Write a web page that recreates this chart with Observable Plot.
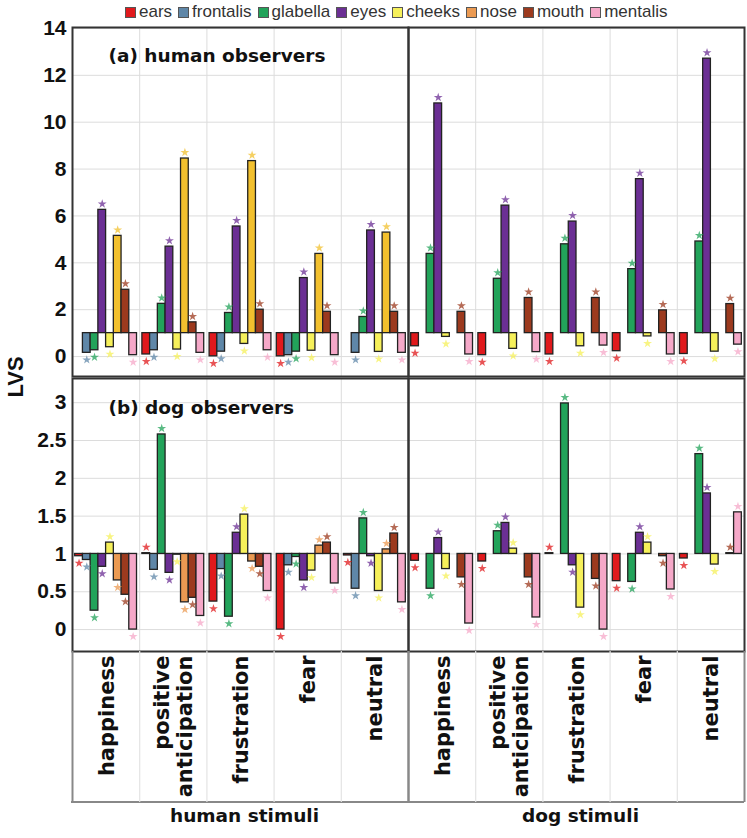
<!DOCTYPE html>
<html><head><meta charset="utf-8">
<script src="https://cdn.jsdelivr.net/npm/d3@7"></script>
<script src="https://cdn.jsdelivr.net/npm/@observablehq/plot@0.6"></script>
<style>
body{margin:0;background:#fff;}
#fig{position:relative;width:747px;height:838px;overflow:hidden;}
#fig svg{display:block;position:absolute;left:0;}
#legend{position:absolute;left:125px;top:0;height:24px;display:flex;align-items:center;font:17px "Liberation Sans",Arial,sans-serif;color:#333;white-space:nowrap;}
#legend .item{display:flex;align-items:center;margin-right:6px;}
#legend .sw{width:9px;height:9px;border:1px solid #555;margin-right:3px;}
#ylab{position:absolute;left:16px;top:377px;transform:translate(-50%,-50%) rotate(-90deg);font:bold 22px "Liberation Sans",Arial,sans-serif;color:#111;}
#boxbottom{position:absolute;left:71px;top:801px;width:673px;height:0;border-top:2px solid #888;}
</style></head><body><div id="fig"><div id="legend"></div><div id="ylab">LVS</div><div id="boxbottom"></div></div>
<script>
// ---- categories ----
const regions = ["ears","frontalis","glabella","eyes","cheeks","nose","mouth","mentalis"];
const emotions = ["happiness","positive anticipation","frustration","fear","neutral"];
const emotionLabels = ["happiness","positive\nanticipation","frustration","fear","neutral"];
const stimuli = ["human stimuli","dog stimuli"];
const legendColors = ["#e0191c","#5f87a8","#22a35a","#6b2f94","#f6f05a","#eb9a52","#9c3a1e","#f5a8c8"];
const colorsA = ["#e0191c","#5f87a8","#22a35a","#6b2f94","#f6f05a","#f2c02e","#9c3a1e","#f5a8c8"];
const colorsB = legendColors;
// ---- values: rows = emotions, columns = regions (null = no bar) ----
// (a) human observers
const humanObsHumanStim = [
  [null,0.16,0.27,6.26,0.40,5.15,2.85,0.06],
  [0.09,0.27,2.25,4.69,0.30,8.45,1.46,0.16],
  [0.01,0.21,1.86,5.55,0.54,8.34,2.00,0.27],
  [0.01,0.06,0.21,3.35,0.25,4.38,1.91,0.06],
  [null,0.16,1.69,5.38,0.20,5.29,1.91,0.16]
];
const humanObsDogStim = [
  [0.44,null,4.38,10.80,0.84,null,1.91,0.09],
  [0.06,null,3.32,6.44,0.33,null,2.50,0.19],
  [0.09,null,4.79,5.76,0.44,null,2.50,0.47],
  [0.23,null,3.73,7.57,0.86,null,1.97,0.09],
  [0.11,null,4.91,12.71,0.21,null,2.24,0.51]
];
// (b) dog observers
const dogObsHumanStim = [
  [0.97,0.92,0.25,0.83,1.15,0.65,0.46,0.00],
  [1.01,0.79,2.58,0.75,0.99,0.36,0.42,0.18],
  [0.37,0.80,0.17,1.28,1.52,0.90,0.83,0.51],
  [0.00,0.85,0.96,0.65,0.78,1.11,1.15,0.61],
  [0.98,0.54,1.47,0.97,0.51,1.06,1.27,0.36]
];
const dogObsDogStim = [
  [0.91,null,0.54,1.21,0.80,null,0.69,0.08],
  [0.90,null,1.30,1.41,1.07,null,0.69,0.16],
  [1.01,null,2.99,0.85,0.29,null,0.67,0.00],
  [0.64,null,0.63,1.28,1.15,null,0.97,0.53],
  [0.94,null,2.32,1.80,0.86,null,1.01,1.55]
];
const ticksA = [0,2,4,6,8,10,12,14];
const ticksB = [0,0.5,1,1.5,2,2.5,3];
const baseline = 1;

function tidy(mats) {
  const out = [];
  stimuli.forEach((s, si) => emotions.forEach((e, ei) => regions.forEach((r, ri) => {
    const v = mats[si][ei][ri];
    if (v != null) out.push({stimulus: s, emotion: e, ei, region: r, ri, value: v});
  })));
  return out;
}
const W = 0.115, M = (1 - 8 * W) / 2;
const bx1 = d => d.ei + M + d.ri * W;
const bx2 = d => d.ei + M + (d.ri + 1) * W;
const bxc = d => d.ei + M + (d.ri + 0.5) * W;
const FONT = "Liberation Sans, Arial, sans-serif";
const DV = "DejaVu Sans, Verdana, sans-serif";

function panelMarks(data, ticks, title, titleDy) {
  return [
    Plot.gridY(ticks, {stroke: "#dcdcdc", strokeOpacity: 1}),
    Plot.ruleX([1, 2, 3, 4], {stroke: "#dcdcdc"}),
    Plot.rect(data, {fx: "stimulus", x1: bx1, x2: bx2, y1: () => baseline, y2: "value",
      fill: "region", stroke: "#222", strokeWidth: 1.3}),
    Plot.dot(data.filter(d => d.value >= baseline), {fx: "stimulus", x: bxc, y: "value",
      symbol: "star", r: 2.8, fill: "region", fillOpacity: 0.75, dy: -6}),
    Plot.dot(data.filter(d => d.value < baseline), {fx: "stimulus", x: bxc, y: "value",
      symbol: "star", r: 2.8, fill: "region", fillOpacity: 0.75, dy: 7}),
    Plot.axisY({ticks, tickSize: 0, tickPadding: 6, tickFormat: d => String(d), fontSize: 21, fontWeight: "bold",
      fontFamily: FONT, fill: "#111", label: null}),
    Plot.frame({stroke: "#333", strokeWidth: 2}),
    Plot.text([title], {fx: () => stimuli[0], text: d => d, frameAnchor: "top-left",
      dx: 36, dy: titleDy, textAnchor: "start", fontSize: 18.5, fontWeight: "bold",
      fontFamily: DV, fill: "#111"})
  ];
}

const dataA = tidy([humanObsHumanStim, humanObsDogStim]);
const dataB = tidy([dogObsHumanStim, dogObsDogStim]);

const plotA = Plot.plot({
  width: 747, height: 352, marginLeft: 71, marginRight: 3, marginTop: 2, marginBottom: 1,
  style: {fontFamily: FONT, background: "transparent", overflow: "visible"},
  x: {domain: [0, 5], axis: null},
  y: {domain: [-0.85, 14.04], axis: null},
  fx: {domain: stimuli, padding: 0, axis: null},
  color: {domain: regions, range: colorsA},
  marks: panelMarks(dataA, ticksA, "(a) human observers", 21)
});
plotA.style.top = "25px";

const plotB = Plot.plot({
  width: 747, height: 461, marginLeft: 71, marginRight: 3, marginTop: 1, marginBottom: 187,
  style: {fontFamily: FONT, background: "transparent", overflow: "visible"},
  x: {domain: [0, 5], axis: null},
  y: {domain: [-0.29, 3.32], axis: null},
  fx: {domain: stimuli, padding: 0, axis: null},
  color: {domain: regions, range: colorsB},
  marks: [
    ...panelMarks(dataB, ticksB, "(b) dog observers", 22),
    Plot.axisX({ticks: [1, 2, 3, 4], tickSize: 151, tickFormat: () => "", stroke: "#e4e4e4", strokeWidth: 1.2}),
    Plot.axisX({ticks: [0, 5], tickSize: 151, tickFormat: () => "", stroke: "#888", strokeWidth: 2}),
    Plot.axisX({ticks: [0.5, 1.5, 2.5, 3.5, 4.5], tickFormat: d => emotionLabels[Math.floor(d)],
      tickSize: 0, tickPadding: 4, rotate: -90, textAnchor: "end", lineAnchor: "middle",
      lineHeight: 1.1, fontSize: 21, fontWeight: "bold", fontFamily: DV, fill: "#111"}),
    Plot.text(stimuli, {fx: d => d, text: d => d, frameAnchor: "bottom", dy: 170, dx: 4,
      fontSize: 18.5, fontWeight: "bold", fontFamily: DV, fill: "#111"})
  ]
});
plotB.style.top = "377px";

const fig = document.getElementById("fig");
fig.appendChild(plotA);
fig.appendChild(plotB);

const legend = document.getElementById("legend");
regions.forEach((r, i) => {
  const it = document.createElement("div"); it.className = "item";
  const sw = document.createElement("div"); sw.className = "sw"; sw.style.background = legendColors[i];
  const tx = document.createElement("span"); tx.textContent = r;
  it.appendChild(sw); it.appendChild(tx); legend.appendChild(it);
});
</script></body></html>
